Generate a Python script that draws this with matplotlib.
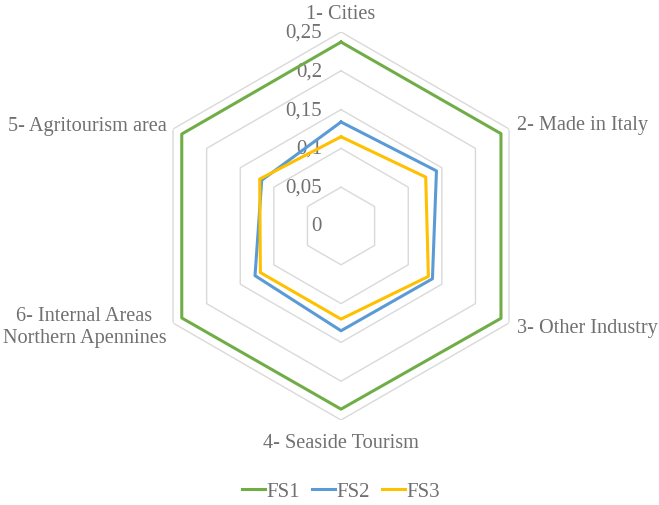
import numpy as np
import matplotlib.pyplot as plt

plt.rcParams['font.family'] = ['Liberation Serif', 'DejaVu Serif']

# Datos por área
categorias = ['1- Cities', '2- Made in Italy', '3- Other Industry',
              '4- Seaside Tourism', '5- Agritourism area',
              '6- Internal Areas\nNorthern Apennines']
fs1 = [0.237, 0.238, 0.238, 0.236, 0.237, 0.237]
fs2 = [0.134, 0.142, 0.136, 0.135, 0.118, 0.128]
fs3 = [0.115, 0.126, 0.130, 0.120, 0.121, 0.120]
niveles = [0, 0.05, 0.1, 0.15, 0.2, 0.25]
etiquetas_niveles = ['0', '0,05', '0,1', '0,15', '0,2', '0,25']

gris = '#707070'
fs = 14.6
n = len(categorias)
# orden de los ejes: Cities arriba, luego sentido horario hasta Agritourism, y el 6 abajo a la izquierda
orden_ang = [0, 1, 2, 3, 5, 4]
ang = np.array([orden_ang[i] * 2 * np.pi / n for i in range(n)])

fig = plt.figure(figsize=(6.59, 5.06), dpi=100)
ax = fig.add_axes([0.5175 - 0.2944, 0.5514 - 0.3834, 0.5888, 0.7668], projection='polar')
ax.set_theta_offset(np.pi / 2)
ax.set_theta_direction(-1)
ax.set_ylim(0, 0.25)
ax.grid(False)
ax.spines['polar'].set_visible(False)
ax.set_xticks([])
ax.set_yticks([])

# rejilla hexagonal
hex_ang = np.append(np.arange(n) * 2 * np.pi / n, 0)
for r in niveles[1:]:
    ax.plot(hex_ang, [r] * (n + 1), color='#d9d9d9', lw=1, zorder=1)

def cerrar(vals):
    idx = np.argsort(ang)
    a = ang[idx]
    v = np.array(vals)[idx]
    return np.append(a, a[0]), np.append(v, v[0])

for vals, col, nom in [(fs1, '#70ad47', 'FS1'), (fs2, '#5b9bd5', 'FS2'), (fs3, '#ffc000', 'FS3')]:
    a, v = cerrar(vals)
    ax.plot(a, v, color=col, lw=2.2, label=nom, zorder=3)

# etiquetas de los niveles
for r, t in zip(niveles, etiquetas_niveles):
    ax.annotate(t, xy=(0, r), xytext=(-19, 0), textcoords='offset pixels',
                ha='right', va='center', fontsize=15, color=gris, zorder=2)

# etiquetas de las categorías
pos = {0: (0.274, 'center'), 1: (0.262, 'left'), 2: (0.262, 'left'),
       3: (0.279, 'center'), 4: (0.26, 'right'), 5: (0.26, 'right')}
for i, c in enumerate(categorias):
    r, ha = pos[orden_ang[i]]
    ax.text(ang[i], r, c, ha=ha, va='center', fontsize=fs, color=gris,
            linespacing=1.2, multialignment='center')

leg = fig.legend(loc='center', bbox_to_anchor=(341 / 659, 1 - 492 / 506), ncol=3,
                 frameon=False, fontsize=15, handlelength=1.1, handletextpad=0.05,
                 columnspacing=0.6, labelcolor=gris)

fig.savefig('out.png', dpi=100)
